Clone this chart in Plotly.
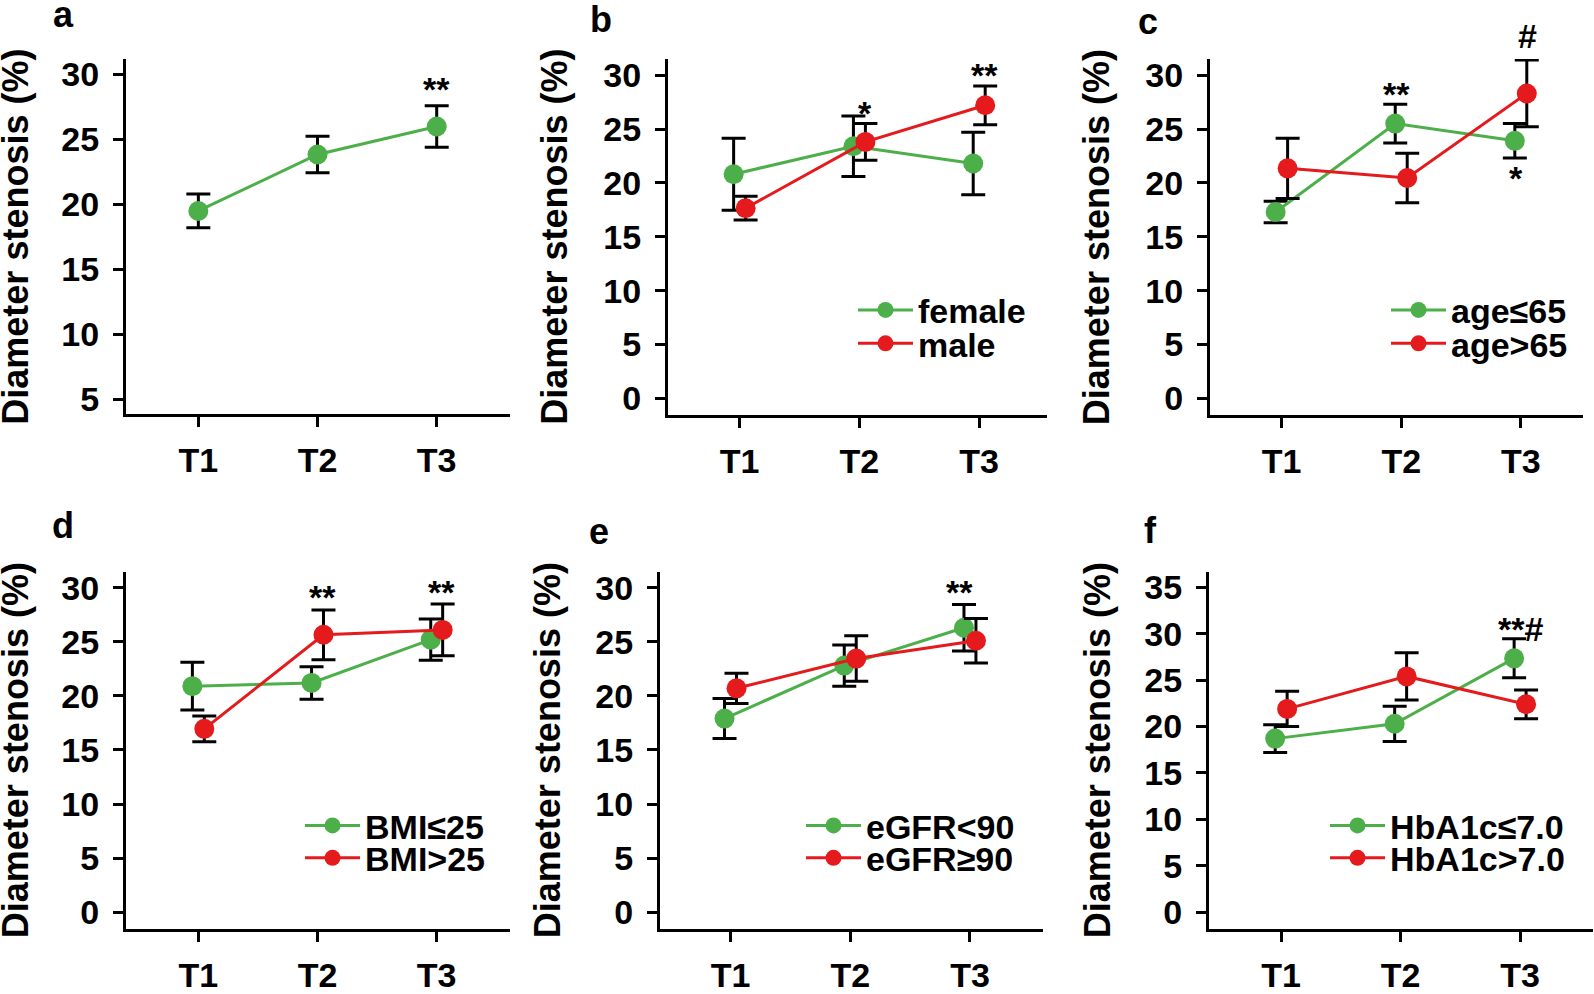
import plotly.graph_objects as go

W, H = 1594, 994

# ---------------- data ----------------
categories = ["T1", "T2", "T3"]

a_all = [19.5, 23.85, 26.0]
a_all_err = [1.3, 1.4, 1.6]

b_female = [20.8, 23.4, 21.8]
b_female_err = [3.35, 2.8, 2.9]
b_male = [17.65, 23.8, 27.2]
b_male_err = [1.1, 1.7, 1.8]

c_age_le65 = [17.3, 25.5, 23.9]
c_age_le65_err = [1.0, 1.8, 1.6]
c_age_gt65 = [21.35, 20.45, 28.3]
c_age_gt65_err = [2.8, 2.3, 3.1]

d_bmi_le25 = [20.9, 21.2, 25.2]
d_bmi_le25_err = [2.2, 1.5, 1.9]
d_bmi_gt25 = [16.95, 25.65, 26.1]
d_bmi_gt25_err = [1.2, 2.3, 2.4]

e_egfr_lt90 = [17.9, 22.8, 26.3]
e_egfr_lt90_err = [1.85, 1.9, 2.15]
e_egfr_ge90 = [20.7, 23.45, 25.1]
e_egfr_ge90_err = [1.4, 2.1, 2.05]

f_hba_le7 = [18.7, 20.3, 27.35]
f_hba_le7_err = [1.5, 1.9, 2.1]
f_hba_gt7 = [21.9, 25.4, 22.4]
f_hba_gt7_err = [1.9, 2.55, 1.55]

legend_names = {
    "b": ["female", "male"],
    "c": ["age≤65", "age>65"],
    "d": ["BMI≤25", "BMI>25"],
    "e": ["eGFR<90", "eGFR≥90"],
    "f": ["HbA1c≤7.0", "HbA1c>7.0"],
}

# significance marks: (panel, category position, value, text)
sig_marks = [
    ("a", 2.0, 28.85, "**"),
    ("b", 1.043, 26.45, "*"),
    ("b", 2.048, 29.98, "**"),
    ("c", 0.957, 28.22, "**"),
    ("c", 2.058, 33.67, "#"),
    ("c", 1.96, 20.42, "*"),
    ("d", 1.045, 29.15, "**"),
    ("d", 2.04, 29.6, "**"),
    ("e", 1.911, 29.6, "**"),
    ("f", 2.0, 30.56, "**#"),
]

# ---------------- style ----------------
GREEN = "#4DAF4A"
RED = "#E41A1C"
FONT = "Liberation Sans, Arial, sans-serif"
TICK_SIZE = 34
LEG_SIZE = 34
YTITLE_SIZE = 36
SIG_SIZE = 34
LETTER_SIZE = 36
LEG_ITEMWIDTH = 55

def fx(px):
    return px / W

def fy(py):
    return 1 - py / H

panels = [
    dict(key="a", dx=(126, 510), dy=(57, 419), yr=(3.84, 31.2), yt=[5, 10, 15, 20, 25, 30],
         xr=(-0.607, 2.615), series=[(None, a_all, a_all_err, GREEN)],
         leg=None, tx=16, letter=(63, 11.6)),
    dict(key="b", dx=(668, 1047), dy=(57, 420), yr=(-1.58, 31.5), yt=[0, 5, 10, 15, 20, 25, 30],
         xr=(-0.598, 2.566), series=[(legend_names["b"][0], b_female, b_female_err, GREEN),
                                     (legend_names["b"][1], b_male, b_male_err, RED)],
         leg=(918, (313, 347)), tx=554.5, letter=(601, 16.6)),
    dict(key="c", dx=(1210, 1583), dy=(57, 420), yr=(-1.58, 31.5), yt=[0, 5, 10, 15, 20, 25, 30],
         xr=(-0.599, 2.52), series=[(legend_names["c"][0], c_age_le65, c_age_le65_err, GREEN),
                                    (legend_names["c"][1], c_age_gt65, c_age_gt65_err, RED)],
         leg=(1451, (313, 347)), tx=1096, letter=(1148, 18.6)),
    dict(key="d", dx=(126, 510), dy=(579, 943), yr=(-1.55, 31.5), yt=[0, 5, 10, 15, 20, 25, 30],
         xr=(-0.607, 2.615), series=[(legend_names["d"][0], d_bmi_le25, d_bmi_le25_err, GREEN),
                                     (legend_names["d"][1], d_bmi_gt25, d_bmi_gt25_err, RED)],
         leg=(365, (838, 871)), tx=15, letter=(63, 532.6)),
    dict(key="e", dx=(660, 1043), dy=(579, 943), yr=(-1.55, 31.5), yt=[0, 5, 10, 15, 20, 25, 30],
         xr=(-0.589, 2.61), series=[(legend_names["e"][0], e_egfr_lt90, e_egfr_lt90_err, GREEN),
                                    (legend_names["e"][1], e_egfr_ge90, e_egfr_ge90_err, RED)],
         leg=(866, (838, 871)), tx=547, letter=(599, 538.6)),
    dict(key="f", dx=(1209, 1593), dy=(579, 943), yr=(-1.8, 36.7), yt=[0, 5, 10, 15, 20, 25, 30, 35],
         xr=(-0.604, 2.61), series=[(legend_names["f"][0], f_hba_le7, f_hba_le7_err, GREEN),
                                    (legend_names["f"][1], f_hba_gt7, f_hba_gt7_err, RED)],
         leg=(1390, (838, 871)), tx=1097, letter=(1150, 537.6)),
]

fig = go.Figure()
layout = dict(
    autosize=True,
    margin=dict(l=0, r=0, t=0, b=0, pad=0),
    paper_bgcolor="white", plot_bgcolor="white",
    font=dict(family=FONT, color="black"),
    scattermode="group", scattergap=0.8,
    showlegend=True,
)
annotations = []
leg_counter = 1

for i, p in enumerate(panels):
    n = i + 1
    xa = "xaxis" if n == 1 else f"xaxis{n}"
    ya = "yaxis" if n == 1 else f"yaxis{n}"
    xref = "x" if n == 1 else f"x{n}"
    yref = "y" if n == 1 else f"y{n}"
    for j, (name, vals, errs, col) in enumerate(p["series"]):
        legname = "legend"
        if name is not None:
            leg_counter += 1
            legname = f"legend{leg_counter}"
            layout[legname] = dict(
                x=fx(p["leg"][0] - 40 - (LEG_ITEMWIDTH - 30)), xanchor="left",
                y=fy(p["leg"][1][j]), yanchor="middle",
                bgcolor="rgba(0,0,0,0)", borderwidth=0,
                itemwidth=LEG_ITEMWIDTH,
                font=dict(family=FONT, size=LEG_SIZE, weight="bold", color="black"),
                itemclick=False, itemdoubleclick=False,
            )
        fig.add_trace(go.Scatter(
            x=categories, y=vals, name=name,
            mode="lines+markers",
            line=dict(color=col, width=3),
            marker=dict(color=col, size=20),
            error_y=dict(type="data", array=errs, visible=True,
                         color="black", thickness=3, width=12),
            xaxis=xref, yaxis=yref,
            showlegend=name is not None,
            legend=legname,
            cliponaxis=False,
        ))
    layout[xa] = dict(
        domain=[fx(p["dx"][0]), fx(p["dx"][1])], anchor=yref,
        type="category", categoryorder="array", categoryarray=categories,
        range=list(p["xr"]),
        showline=True, linewidth=3, linecolor="black", mirror=False,
        ticks="outside", ticklen=10, tickwidth=3, tickcolor="black",
        showgrid=False, zeroline=False, ticklabelstandoff=4,
        tickfont=dict(family=FONT, size=TICK_SIZE, weight="bold", color="black"),
        fixedrange=True,
    )
    layout[ya] = dict(
        domain=[fy(p["dy"][1]), fy(p["dy"][0])], anchor=xref,
        range=list(p["yr"]), tickmode="array", tickvals=p["yt"],
        showline=True, linewidth=3, linecolor="black",
        ticks="outside", ticklen=10, tickwidth=3, tickcolor="black",
        showgrid=False, zeroline=False, ticklabelstandoff=7,
        tickfont=dict(family=FONT, size=TICK_SIZE, weight="bold", color="black"),
        fixedrange=True,
    )
    # y-axis title
    annotations.append(dict(
        text="Diameter stenosis (%)", textangle=-90,
        x=fx(p["tx"]), y=fy((p["dy"][0] + p["dy"][1]) / 2),
        xref="paper", yref="paper", xanchor="center", yanchor="middle",
        showarrow=False,
        font=dict(family=FONT, size=YTITLE_SIZE, weight="bold", color="black"),
    ))
    # panel letter
    annotations.append(dict(
        text=p["key"], x=fx(p["letter"][0]), y=fy(p["letter"][1]),
        xref="paper", yref="paper", xanchor="center", yanchor="middle",
        showarrow=False,
        font=dict(family=FONT, size=LETTER_SIZE, weight="bold", color="black"),
    ))
    # significance marks (y given in data units, mapped onto the axis domain so
    # marks above the axis range stay visible)
    r0, r1 = p["yr"]
    for key, xpos, yval, txt in sig_marks:
        if key == p["key"]:
            annotations.append(dict(
                text=txt, x=xpos, y=(yval - r0) / (r1 - r0),
                xref=xref, yref=f"{yref} domain",
                xanchor="center", yanchor="middle", showarrow=False,
                font=dict(family=FONT, size=SIG_SIZE, weight="bold", color="black"),
            ))

layout["annotations"] = annotations
fig.update_layout(**layout)

post = (
    "document.documentElement.style.margin='0';"
    "document.body.style.margin='0';"
    "document.documentElement.style.overflow='hidden';"
    "document.body.style.overflow='hidden';"
    "var gd=document.getElementsByClassName('plotly-graph-div')[0];"
    "gd.style.position='fixed';gd.style.left='0px';gd.style.top='0px';"
    "gd.style.width='100vw';gd.style.height='100vh';"
    "Plotly.Plots.resize(gd);"
)
fig.write_html(
    "out.html",
    config={"displayModeBar": False, "responsive": True},
    default_width="100vw", default_height="100vh",
    post_script=post,
)
